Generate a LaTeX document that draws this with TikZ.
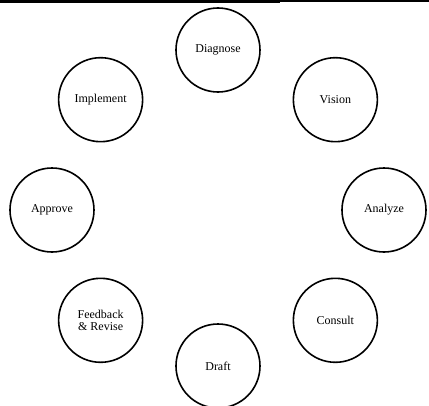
\documentclass[tikz,border=0pt]{standalone}
\usepackage{fontspec}
\setmainfont{Liberation Serif}
\usepackage{tikz}

\begin{document}
\begin{tikzpicture}[x=1pt, y=1pt,
		stage/.style = {draw, circle, line width = 1.6pt, minimum size = 84pt,
			inner sep = 0pt, align = center, font = \fontsize{12}{12.5}\selectfont}]
		\def\rx{166};
		\def\ry{156};
		
		\useasboundingbox (-218,-195) rectangle (211,210);
		
		% bar along the top
		\fill (-218,210) rectangle (62,206.5);
		\fill (62,210) rectangle (211,208);
		
		\node [stage] (diagnose) at (0,\ry+4) {Diagnose};
		\node [stage] (vision) at ({\rx*cos(45)},{\ry*sin(45)}) {Vision};
		\node [stage] (analyze) at (\rx,0) {Analyze};
		\node [stage] (consult) at ({\rx*cos(-45)},{\ry*sin(-45)}) {Consult};
		\node [stage] (draft) at (0,-\ry) {Draft};
		\node [stage] (feedback) at ({\rx*cos(225)},{\ry*sin(225)}) {Feedback\\\& Revise};
		\node [stage] (approve) at (-\rx,0) {Approve};
		\node [stage] (implement) at ({\rx*cos(135)},{\ry*sin(135)}) {Implement};
	\end{tikzpicture}
\end{document}
